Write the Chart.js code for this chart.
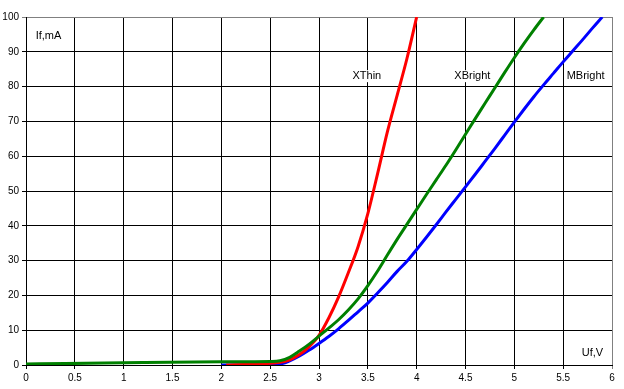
<!DOCTYPE html>
<html>
<head>
<meta charset="utf-8">
<script src="https://cdn.jsdelivr.net/npm/chart.js@4"></script>
<style>
  html, body { margin: 0; padding: 0; background: #fff; }
</style>
</head>
<body>
<canvas id="iv-chart" width="624" height="389"></canvas>
<script>
// forward voltage (V) vs current (mA)
const xThinU = [2.05, 2.6, 2.7, 2.8, 2.9, 3.0, 3.1, 3.2, 3.3, 3.4, 3.5, 3.6, 3.7, 3.8, 3.9, 4.0];
const xThinI = [0, 0.8, 1.5, 3, 5.3, 8.5, 13.5, 19.5, 26.5, 34, 43.5, 55, 67, 77.5, 88, 100];

const xBrightU = [0, 0.4, 1.2, 2.0, 2.5, 2.6, 2.7, 2.8, 2.9, 3.0, 3.1, 3.2, 3.3, 3.4, 3.5, 3.6, 3.7, 3.8, 3.9,
  4.0, 4.1, 4.2, 4.3, 4.4, 4.5, 4.6, 4.7, 4.8, 4.9, 5.0, 5.1, 5.2, 5.3];
const xBrightI = [0.3, 0.4, 0.7, 0.9, 1.0, 1.2, 2.2, 4.0, 6.0, 8.3, 10.6, 13.0, 15.8, 19.0, 22.8, 27.0, 31.6, 36.1, 40.4,
  44.7, 49, 53.2, 57.4, 61.8, 66.3, 70.8, 75.2, 79.6, 84, 88.3, 92.4, 96.3, 100];

const mBrightU = [2.0, 2.6, 2.7, 2.8, 2.9, 3.0, 3.1, 3.2, 3.3, 3.4, 3.5, 3.6, 3.7, 3.8, 3.9,
  4.0, 4.1, 4.2, 4.3, 4.4, 4.5, 4.6, 4.7, 4.8, 4.9, 5.0, 5.1, 5.2, 5.3, 5.4, 5.5, 5.6, 5.7, 5.8, 5.9];
const mBrightI = [0, 0.3, 1.2, 2.6, 4.3, 6.2, 8.2, 10.4, 12.8, 15.3, 17.8, 20.7, 23.7, 26.9, 29.8,
  33.2, 36.7, 40.3, 44, 47.6, 51.2, 54.8, 58.5, 62.2, 66, 69.8, 73.5, 77.1, 80.5, 83.8, 87.1, 90.3, 93.5, 96.8, 100];

// text labels placed in data coordinates
const curveLabels = [
  { text: "XThin", x: 3.49, y: 83 },
  { text: "XBright", x: 4.57, y: 83 },
  { text: "MBright", x: 5.73, y: 83 },
  { text: "If,mA", x: 0.23, y: 94.5 },
  { text: "Uf,V", x: 5.8, y: 3.4 },
];

const toPoints = (us, is) => us.map((u, i) => ({ x: u, y: is[i] }));

const labelPlugin = {
  id: "curveLabels",
  afterDatasetsDraw(chart) {
    const ctx = chart.ctx;
    const xs = chart.scales.x;
    const ys = chart.scales.y;
    ctx.save();
    ctx.font = "11px 'Liberation Sans', Arial, sans-serif";
    ctx.textAlign = "center";
    ctx.textBaseline = "middle";
    curveLabels.forEach((l) => {
      const px = xs.getPixelForValue(l.x);
      const py = ys.getPixelForValue(l.y);
      const w = ctx.measureText(l.text).width;
      ctx.fillStyle = "#fff";
      ctx.fillRect(px - w / 2 - 1, py - 6, w + 2, 12);
      ctx.fillStyle = "#000";
      ctx.fillText(l.text, px, py);
    });
    ctx.restore();
  },
};

const tickFont = { family: "'Liberation Sans', Arial, sans-serif", size: 10 };

new Chart(document.getElementById("iv-chart"), {
  type: "line",
  data: {
    datasets: [
      {
        label: "XBright",
        data: toPoints(xBrightU, xBrightI),
        borderColor: "#008000",
        order: 0,
      },
      {
        label: "XThin",
        data: toPoints(xThinU, xThinI),
        borderColor: "#ff0000",
        order: 1,
      },
      {
        label: "MBright",
        data: toPoints(mBrightU, mBrightI),
        borderColor: "#0000ff",
        order: 2,
      },
    ],
  },
  options: {
    responsive: false,
    animation: false,
    devicePixelRatio: 1,
    layout: { padding: { top: 17, right: 12, left: 0, bottom: 0 } },
    elements: {
      line: { borderWidth: 3, cubicInterpolationMode: "monotone", fill: false },
      point: { radius: 0 },
    },
    plugins: { legend: { display: false }, tooltip: { enabled: false } },
    scales: {
      x: {
        type: "linear",
        min: 0,
        max: 6,
        ticks: {
          stepSize: 0.5,
          color: "#000",
          font: tickFont,
          padding: 3,
          maxRotation: 0,
          callback: (v) => String(v),
        },
        grid: {
          color: (c) => (c.tick && c.tick.value === 6 ? "#808080" : "#000"),
          tickLength: 4,
        },
        border: { color: "#000" },
        afterFit: (s) => { s.height = 24; },
      },
      y: {
        min: 0,
        max: 100,
        ticks: { stepSize: 10, color: "#000", font: tickFont, padding: 3 },
        grid: {
          color: (c) => (c.tick && c.tick.value === 100 ? "#808080" : "#000"),
          tickLength: 4,
        },
        border: { color: "#000" },
        afterFit: (s) => { s.width = 26; },
      },
    },
  },
  plugins: [labelPlugin],
});
</script>
</body>
</html>
